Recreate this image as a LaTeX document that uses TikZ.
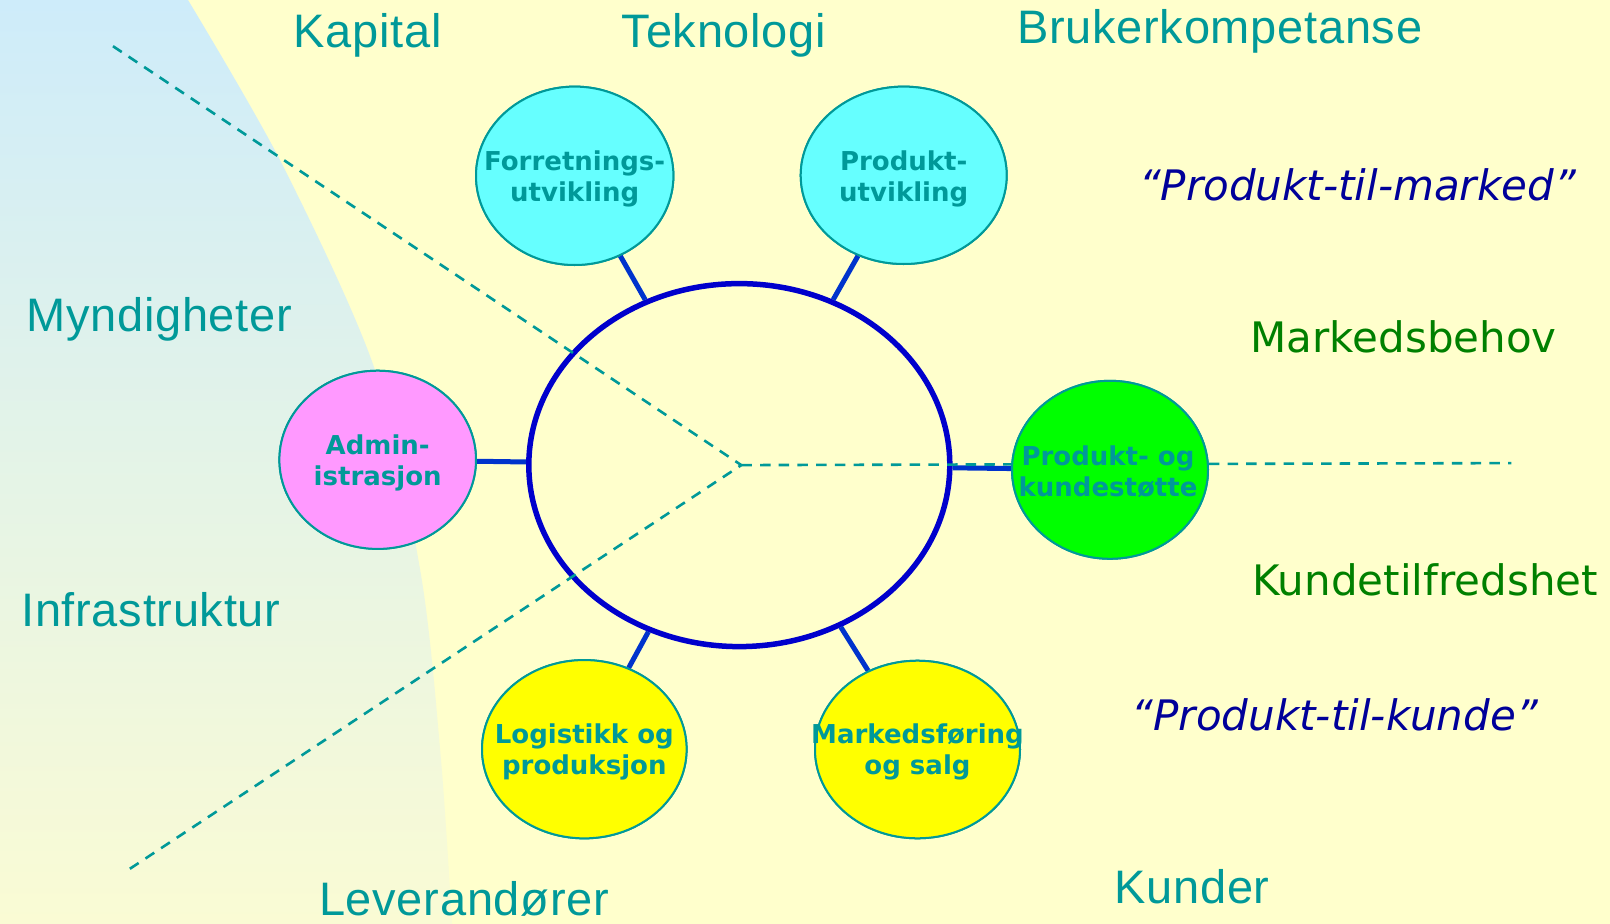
\documentclass[tikz,border=0pt]{standalone}
\usepackage{fontspec}
\setmainfont{DejaVu Sans}
\newfontfamily\labfont[LetterSpace=1.5]{Liberation Sans}
\newfontfamily\dvfont{DejaVu Sans}
\usetikzlibrary{shapes.geometric}
\definecolor{bgyellow}{RGB}{255,255,204}
\definecolor{tealc}{RGB}{0,153,153}
\definecolor{greenlab}{RGB}{0,128,0}
\definecolor{navy}{RGB}{0,0,153}
\definecolor{bigblue}{RGB}{0,0,204}
\definecolor{connblue}{RGB}{0,51,204}
\definecolor{cyanfill}{RGB}{102,255,255}
\definecolor{pinkfill}{RGB}{255,153,255}
\definecolor{greenfill}{RGB}{0,255,0}
\definecolor{yellowfill}{RGB}{255,255,0}
\definecolor{skytop}{RGB}{206,236,250}
\definecolor{skybot}{RGB}{250,251,212}
\tikzset{
  smallell/.style={ellipse, draw=tealc, line width=2pt, inner sep=0pt},
  ntext/.style={text=tealc, align=center, inner sep=0pt,
    font=\dvfont\bfseries\fontsize{26}{31}\selectfont},
  outlab/.style={text=tealc, anchor=base, inner sep=0pt,
    font=\labfont\fontsize{47}{56}\selectfont},
  grnlab/.style={text=greenlab, anchor=base, inner sep=0pt,
    font=\dvfont\fontsize{42}{50}\selectfont},
  itlab/.style={text=navy, anchor=base, inner sep=0pt,
    font=\dvfont\itshape\fontsize{42}{50}\selectfont},
  conn/.style={draw=connblue, line width=5pt},
  dashln/.style={draw=tealc, line width=2.6pt, dash pattern=on 10.5pt off 8.2pt},
}
\begin{document}
\begin{tikzpicture}[x=1pt,y=-1pt]
\useasboundingbox (0,0) rectangle (1610,924);
\fill[bgyellow] (0,0) rectangle (1610,924);
\shade[top color=skytop, bottom color=skybot]
  plot[smooth] coordinates {(188,0) (282,164) (375,370) (421,575) (441,760) (452,924)}
  -- (0,924) -- (0,0) -- cycle;

% central ellipse
\node[ellipse, draw=bigblue, line width=5.5pt, minimum width=421pt, minimum height=363pt, inner sep=0pt] (big) at (739.3,465.1) {};

% satellite ellipses (positions)
\node[smallell, fill=cyanfill, minimum width=197.4pt, minimum height=178.4pt] (forr) at (574.7,175.8) {};
\node[smallell, fill=cyanfill, minimum width=206pt, minimum height=177.4pt] (prod) at (903.7,175.3) {};
\node[smallell, fill=pinkfill, minimum width=196.6pt, minimum height=178.2pt] (admin) at (377.7,459.8) {};
\node[smallell, fill=greenfill, minimum width=196pt, minimum height=178pt] (kunde) at (1110,469.8) {};
\node[smallell, fill=yellowfill, minimum width=204.6pt, minimum height=178.3pt] (logi) at (584.3,749.2) {};
\node[smallell, fill=yellowfill, minimum width=205pt, minimum height=177.6pt] (mark) at (917.5,749.5) {};

% connectors
\draw[conn] (forr) -- (big);
\draw[conn] (prod) -- (big);
\draw[conn] (admin) -- (big);
\draw[conn] (kunde) -- (big);
\draw[conn] (logi) -- (big);
\draw[conn] (mark) -- (big);

% dashed lines
\coordinate (ctr) at (741.3,465.1);
\coordinate (dtl) at (113,46.2);
\coordinate (dbl) at (125.3,871.8);
\coordinate (dr) at (1511.4,463.1);
\draw[dashln] (dtl) -- (ctr) -- (dbl);
\draw[dashln] (ctr) -- (dr);

% redraw satellites on top of dashed lines
\node[smallell, fill=cyanfill, minimum width=197.4pt, minimum height=178.4pt] at (forr) {};
\node[smallell, fill=cyanfill, minimum width=206pt, minimum height=177.4pt] at (prod) {};
\node[smallell, fill=pinkfill, minimum width=196.6pt, minimum height=178.2pt] at (admin) {};
\node[smallell, fill=greenfill, minimum width=196pt, minimum height=178pt] at (kunde) {};
\node[smallell, fill=yellowfill, minimum width=204.6pt, minimum height=178.3pt] at (logi) {};
\node[smallell, fill=yellowfill, minimum width=205pt, minimum height=177.6pt] at (mark) {};

% satellite texts
\node[ntext] (forrt) at (574.7,179) {Forretnings-\\utvikling};
\node[ntext] (prodt) at (903.7,179) {Produkt-\\utvikling};
\node[ntext] (admint) at (377.7,462.5) {Admin-\\istrasjon};
\node[ntext] (kundet) at (1108,472) {Produkt- og\\kundestøtte};
\node[ntext] (logit) at (584.3,752) {Logistikk og\\produksjon};
\node[ntext] (markt) at (917.5,752) {Markedsføring\\og salg};

% outer labels
\node[outlab] (kap) at (367.6,47.2) {Kapital};
\node[outlab] (tek) at (723.9,47.5) {Teknologi};
\node[outlab] (bruk) at (1219.8,43) {Brukerkompetanse};
\node[outlab] (mynd) at (159.2,331.7) {Myndigheter};
\node[outlab] (infra) at (150.9,626.3) {Infrastruktur};
\node[outlab] (lev) at (464.1,915) {Leverandører};
\node[outlab] (kund) at (1192.1,903.6) {Kunder};
\node[grnlab] (mbeh) at (1403.6,352) {Markedsbehov};
\node[grnlab] (ktilf) at (1425.2,595.5) {Kundetilfredshet};
\node[itlab] (ptm) at (1357.4,200) {“Produkt-til-marked”};
\node[itlab] (ptk) at (1334.8,730) {“Produkt-til-kunde”};
\end{tikzpicture}
\end{document}
